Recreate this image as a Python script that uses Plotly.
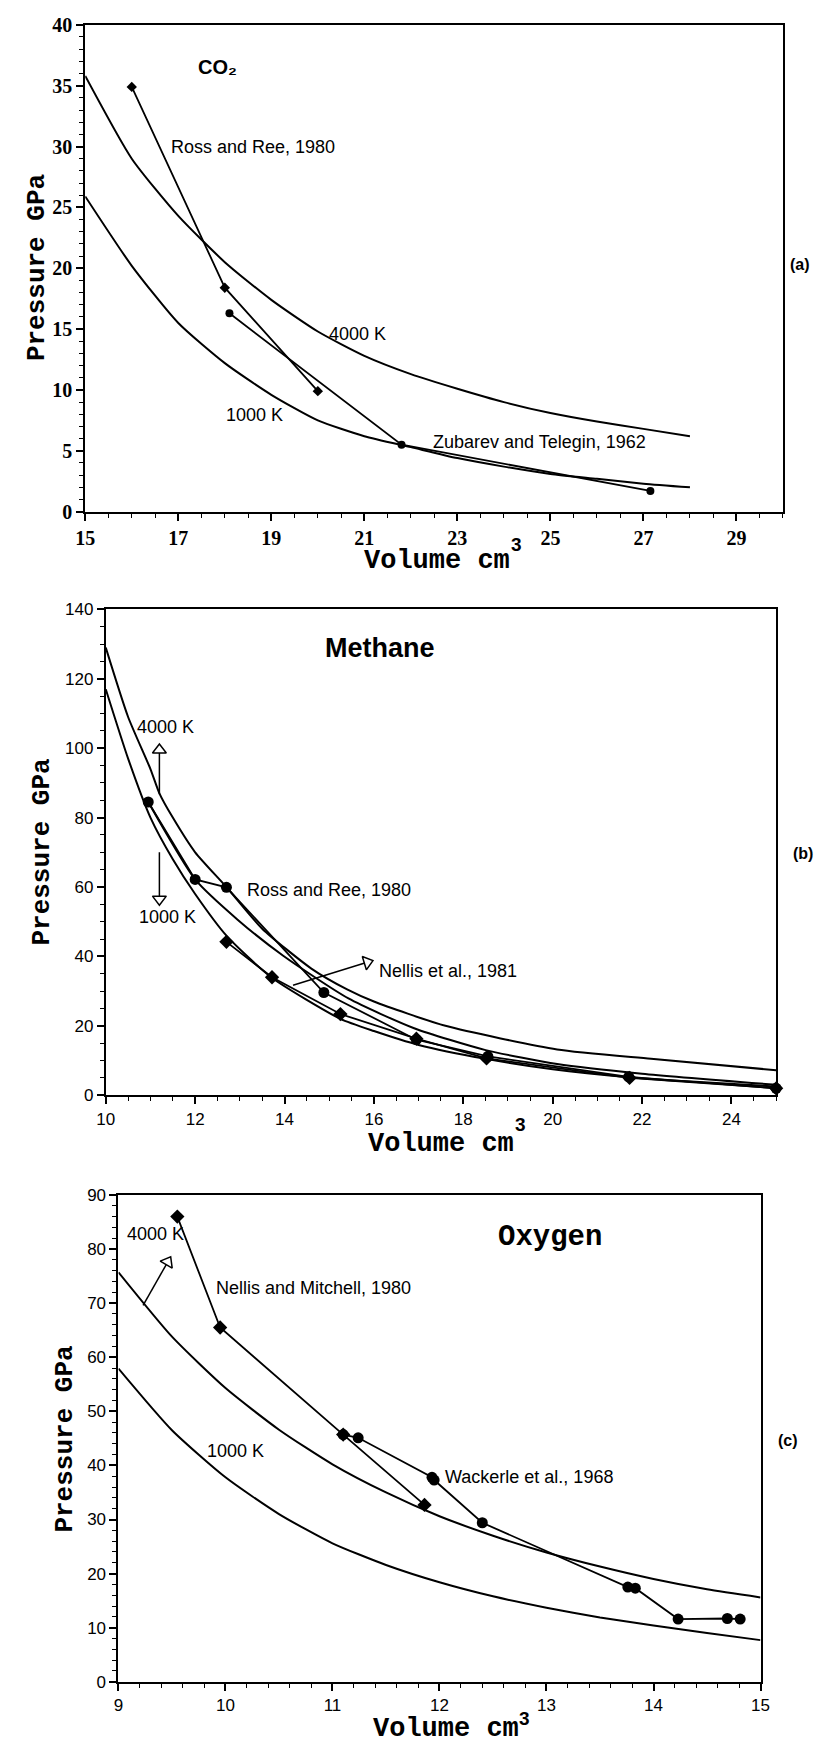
import math
import plotly.graph_objects as go

W, H = 834, 1754
SANS = "Liberation Sans, Arial, Helvetica, sans-serif"
SERIF = "Liberation Serif, Times New Roman, serif"
MONO = "Liberation Mono, Courier New, monospace"

# ---------------- Panel (a): CO2 ----------------
co2_v_curve = [15, 16, 17, 18, 19, 20, 21, 22, 23, 24, 25, 26, 27, 28]
co2_p_4000 = [35.8, 29.0, 24.3, 20.5, 17.4, 14.8, 12.8, 11.3, 10.1, 9.0, 8.1, 7.4, 6.8, 6.2]
co2_p_1000 = [25.9, 20.2, 15.5, 12.2, 9.6, 7.5, 6.2, 5.3, 4.4, 3.7, 3.1, 2.7, 2.3, 2.0]
co2_rr_v = [16.0, 18.0, 20.0]
co2_rr_p = [34.9, 18.4, 9.9]
co2_zt_v = [18.1, 21.8, 27.15]
co2_zt_p = [16.3, 5.5, 1.7]
co2_xticks = [15, 17, 19, 21, 23, 25, 27, 29]
co2_yticks = [0, 5, 10, 15, 20, 25, 30, 35, 40]

# ---------------- Panel (b): Methane ----------------
ch4_v_4000 = [10, 10.5, 11, 11.2, 11.5, 12, 12.7, 13.5, 14.6, 15.4, 16, 17.6, 20.1, 22.2, 25]
ch4_p_4000 = [129, 109, 94, 87, 80, 70, 60, 48, 36.5, 30.5, 27, 20, 13.2, 10.5, 7.2]
ch4_v_1000 = [10, 10.5, 11, 11.5, 12, 12.7, 13.7, 15.25, 16, 17, 18.5, 20, 21.7, 23, 25]
ch4_p_1000 = [117, 97, 80, 68, 58, 46, 34, 22, 18.5, 14.5, 10.5, 7.5, 5.2, 4.0, 2.5]
ch4_v_mid = [10.95, 12.0, 12.95, 13.97, 15.43, 16.9, 18.5, 20.1, 22.0, 25.0]
ch4_p_mid = [84.5, 62.2, 50.6, 40.2, 27.9, 19.3, 13.0, 9.0, 6.2, 3.0]
ch4_rr_v = [10.95, 12.0, 12.7, 14.88, 16.95, 18.55, 21.7, 25.0]
ch4_rr_p = [84.5, 62.2, 59.9, 29.6, 16.0, 11.2, 5.3, 2.0]
ch4_nel_v = [12.7, 13.72, 15.25, 16.95, 18.52, 21.72, 25.0]
ch4_nel_p = [44.2, 34.0, 23.4, 16.3, 10.6, 5.0, 2.0]
ch4_xticks = [10, 12, 14, 16, 18, 20, 22, 24]
ch4_yticks = [0, 20, 40, 60, 80, 100, 120, 140]

# ---------------- Panel (c): Oxygen ----------------
o2_v_curve = [9, 9.5, 10, 10.5, 11, 11.5, 12, 12.5, 13, 13.5, 14, 14.5, 15]
o2_p_4000 = [75.7, 63.8, 54.3, 46.6, 40.2, 35.0, 30.6, 27.0, 23.9, 21.3, 19.0, 17.1, 15.6]
o2_p_1000 = [57.9, 46.5, 37.8, 31.0, 25.6, 21.6, 18.4, 15.8, 13.7, 11.9, 10.4, 9.0, 7.7]
o2_nm_v = [9.55, 9.95, 11.1, 11.86]
o2_nm_p = [86.0, 65.5, 45.7, 32.7]
o2_wk_v = [11.1, 11.24, 11.93, 11.95, 12.4, 13.76, 13.83, 14.23, 14.69, 14.81]
o2_wk_p = [45.7, 45.1, 37.8, 37.3, 29.4, 17.5, 17.3, 11.6, 11.7, 11.6]
o2_xticks = [9, 10, 11, 12, 13, 14, 15]
o2_yticks = [0, 10, 20, 30, 40, 50, 60, 70, 80, 90]

# pixel boxes of the three plot areas (left, right, top, bottom)
boxes = {
    "a": (77, 791, 14, 507),
    "b": (98, 784, 606, 1098),
    "c": (111, 768, 1199, 1692),
}
ranges = {
    "a": ((15, 30), (0, 40)),
    "b": ((10, 25), (0, 140)),
    "c": ((9, 15), (0, 90)),
}
axid = {"a": ("x", "y"), "b": ("x2", "y2"), "c": ("x3", "y3")}

fig = go.Figure()


def line(panel, x, y, width=2.0):
    xa, ya = axid[panel]
    fig.add_trace(go.Scatter(x=x, y=y, xaxis=xa, yaxis=ya, mode="lines",
                             line=dict(color="black", width=width, shape="spline", smoothing=0.6),
                             hoverinfo="skip", showlegend=False, cliponaxis=False))


def data(panel, x, y, symbol, size, width=1.8):
    xa, ya = axid[panel]
    fig.add_trace(go.Scatter(x=x, y=y, xaxis=xa, yaxis=ya, mode="lines+markers",
                             line=dict(color="black", width=width),
                             marker=dict(symbol=symbol, size=size, color="black"),
                             hoverinfo="skip", showlegend=False, cliponaxis=False))


def scale(panel):
    l, r, t, b = boxes[panel]
    (x0, x1), (y0, y1) = ranges[panel]
    return (r - l) / (x1 - x0), (b - t) / (y1 - y0)


def arrow(panel, x0, y0, x1, y1):
    xa, ya = axid[panel]
    sx, sy = scale(panel)
    ang = math.degrees(math.atan2((x1 - x0) * sx, (y1 - y0) * sy))
    fig.add_trace(go.Scatter(x=[x0, x1], y=[y0, y1], xaxis=xa, yaxis=ya, mode="lines",
                             line=dict(color="black", width=1.5),
                             hoverinfo="skip", showlegend=False, cliponaxis=False))
    fig.add_trace(go.Scatter(x=[x1], y=[y1], xaxis=xa, yaxis=ya, mode="markers",
                             marker=dict(symbol="triangle-up", size=12, angle=ang, color="white",
                                         line=dict(color="black", width=1.5)),
                             hoverinfo="skip", showlegend=False, cliponaxis=False))


# Panel (a)
line("a", co2_v_curve, co2_p_4000)
line("a", co2_v_curve, co2_p_1000)
data("a", co2_rr_v, co2_rr_p, "diamond", 8)
data("a", co2_zt_v, co2_zt_p, "circle", 8)

# Panel (b)
line("b", ch4_v_4000, ch4_p_4000)
line("b", ch4_v_1000, ch4_p_1000)
line("b", ch4_v_mid, ch4_p_mid)
data("b", ch4_rr_v, ch4_rr_p, "circle", 11)
data("b", ch4_nel_v, ch4_nel_p, "diamond", 11)
arrow("b", 11.2, 86.7, 11.2, 99.5)
arrow("b", 11.2, 70.0, 11.2, 56.5)
arrow("b", 14.19, 31.7, 15.85, 38.3)

# Panel (c)
line("c", o2_v_curve, o2_p_4000)
line("c", o2_v_curve, o2_p_1000)
data("c", o2_nm_v, o2_nm_p, "diamond", 11)
data("c", o2_wk_v, o2_wk_p, "circle", 11)
arrow("c", 9.23, 69.6, 9.46, 77.6)


def axis_common(panel, ticks_font, xticks, yticks, xminor, yminor):
    l, r, t, b = boxes[panel]
    (x0, x1), (y0, y1) = ranges[panel]
    base = dict(showline=True, linecolor="black", linewidth=2, mirror=True,
                showgrid=False, zeroline=False, ticks="outside", ticklen=7,
                tickwidth=1.5, tickcolor="black", tickfont=ticks_font)
    xa = dict(base, domain=[l / W, r / W], range=[x0, x1], tickvals=xticks,
              minor=dict(dtick=xminor, ticks="outside", ticklen=4, tickcolor="black",
                         tickwidth=1, showgrid=False))
    ya = dict(base, domain=[1 - b / H, 1 - t / H], range=[y0, y1], tickvals=yticks,
              minor=dict(dtick=yminor, ticks="outside", ticklen=4, tickcolor="black",
                         tickwidth=1, showgrid=False))
    return xa, ya


fa = dict(family=SERIF, size=20, color="black", weight="bold")
fb = dict(family=SANS, size=17, color="black")
xa1, ya1 = axis_common("a", fa, co2_xticks, co2_yticks, 0.5, 1)
xa2, ya2 = axis_common("b", fb, ch4_xticks, ch4_yticks, 0.5, 5)
xa3, ya3 = axis_common("c", fb, o2_xticks, o2_yticks, 0.2, 2)
xa1.update(anchor="y"); ya1.update(anchor="x")
xa2.update(anchor="y2"); ya2.update(anchor="x2")
xa3.update(anchor="y3"); ya3.update(anchor="x3")

ann = []


def txt(panel, x, y, text, size=18, family=SANS, xanchor="left"):
    xa, ya = axid[panel]
    ann.append(dict(x=x, y=y, xref=xa, yref=ya, text=text, showarrow=False,
                    xanchor=xanchor, yanchor="middle",
                    font=dict(family=family, size=size, color="black")))


def ptxt(px, py, text, size, family, angle=0):
    ann.append(dict(x=px / W, y=1 - py / H, xref="paper", yref="paper", text=text,
                    showarrow=False, xanchor="center", yanchor="middle", textangle=angle,
                    borderpad=0, font=dict(family=family, size=size, color="black")))


# panel (a) labels
txt("a", 17.84, 36.5, "<b>CO₂</b>", size=20, xanchor="center")
txt("a", 16.79, 30.0, "Ross and Ree, 1980")
txt("a", 20.19, 14.6, "4000 K")
txt("a", 17.98, 7.95, "1000 K")
txt("a", 22.44, 5.76, "Zubarev and Telegin, 1962")
# panel (b) labels
txt("b", 14.85, 128.9, "<b>Methane</b>", size=27)
txt("b", 10.66, 106.1, "4000 K")
txt("b", 10.70, 51.5, "1000 K")
txt("b", 13.11, 59.2, "Ross and Ree, 1980")
txt("b", 16.06, 35.9, "Nellis et al., 1981")
# panel (c) labels
txt("c", 12.53, 82.1, "<b>Oxygen</b>", size=29, family=MONO)
txt("c", 9.06, 82.7, "4000 K")
txt("c", 9.89, 72.8, "Nellis and Mitchell, 1980")
txt("c", 9.81, 42.7, "1000 K")
txt("c", 12.03, 37.8, "Wackerle et al., 1968")

# axis titles
ytitle = "<b>Pressure GPa</b>"
xtitle = "<b>Volume cm</b>"
ptxt(27, 260, ytitle, 26, MONO, -90)
ptxt(33, 852, ytitle, 26, MONO, -90)
ptxt(56, 1446, ytitle, 26, MONO, -90)
ptxt(437, 557, xtitle, 27, MONO)
ptxt(441, 1147, xtitle, 27, MONO)
ptxt(446, 1740, xtitle, 27, MONO)
ptxt(518, 540, "<b>3</b>", 19, SANS)
ptxt(522, 1128, "<b>3</b>", 19, SANS)
ptxt(527, 1729, "<b>3</b>", 19, SANS)
# panel letters
ptxt(808, 257, "<b>(a)</b>", 16, SANS)
ptxt(811, 853, "<b>(b)</b>", 16, SANS)
ptxt(796, 1448, "<b>(c)</b>", 16, SANS)

fig.update_layout(
    width=W, height=H, margin=dict(l=0, r=0, t=0, b=0),
    paper_bgcolor="white", plot_bgcolor="white", showlegend=False,
    xaxis=xa1, yaxis=ya1, xaxis2=xa2, yaxis2=ya2, xaxis3=xa3, yaxis3=ya3,
    annotations=ann,
)

fig.write_html("out.html")
